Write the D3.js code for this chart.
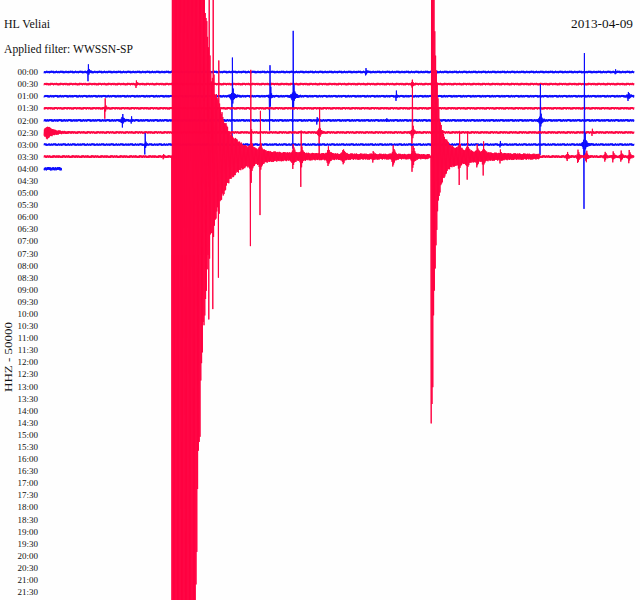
<!DOCTYPE html>
<html><head><meta charset="utf-8">
<script src="https://cdn.jsdelivr.net/npm/d3@7"></script>
<style>body{margin:0;background:#fff} svg{display:block}</style>
</head><body><svg id="c" width="640" height="600"></svg>
<script>
// ---------- data ----------
const stationName = "HL Veliai";
const filterText = "Applied filter: WWSSN-SP";
const dateText = "2013-04-09";
const channelText = "HHZ - 50000";
const rowLabels = ["00:00","00:30","01:00","01:30","02:00","02:30","03:00","03:30","04:00","04:30",
  "05:00","05:30","06:00","06:30","07:00","07:30","08:00","08:30","09:00","09:30","10:00","10:30",
  "11:00","11:30","12:00","12:30","13:00","13:30","14:00","14:30","15:00","15:30","16:00","16:30",
  "17:00","17:30","18:00","18:30","19:00","19:30","20:00","20:30","21:00","21:30"];
// recorded traces (rows 0..8); minutes recorded in each row, background noise in counts
const traceEndMin = [30, 30, 30, 30, 30, 30, 30, 30, 0.9];
const traceNoise = [5200, 5200, 5200, 5200, 5200, 5200, 4800, 5600, 7000];
const traceColor = ["blue","red","blue","red","blue","red","blue","red","blue"];
// events: [row, onset minute, upward peak (counts), downward peak (counts), decay (minutes)]
const events = [
  [0, 2.24, 24000, 24000, 0.02], [0, 2.24, 9000, 9000, 0.05], [0, 16.37, 12000, 12000, 0.025], [0, 29.03, 12000, 12000, 0.025],
  [1, 4.68, 12000, 12000, 0.025], [1, 18.71, 14000, 14000, 0.04],
  [2, 9.56, 140000, 195000, 0.015], [2, 9.56, 26000, 26000, 0.09],
  [2, 11.49, 128000, 128000, 0.015], [2, 11.49, 12000, 12000, 0.06],
  [2, 12.66, 244000, 203000, 0.015], [2, 12.66, 30000, 30000, 0.09],
  [2, 17.90, 18000, 18000, 0.025], [2, 29.7, 15000, 15000, 0.06],
  [3, 3.10, 33000, 33000, 0.015], [3, 3.10, 9000, 9000, 0.04],
  [4, 3.97, 41000, 41000, 0.015], [4, 3.97, 16000, 16000, 0.07], [4, 4.42, 20000, 20000, 0.025],
  [4, 13.88, 12000, 12000, 0.025], [4, 17.39, 10000, 10000, 0.025],
  [4, 25.22, 128000, 132000, 0.015], [4, 25.22, 26000, 26000, 0.07],
  [5, 0.15, 24000, 24000, 0.3], [5, 13.98, 186000, 199000, 0.015], [5, 13.98, 22000, 22000, 0.07],
  [5, 18.71, 248000, 157000, 0.015], [5, 18.71, 20000, 20000, 0.07], [5, 27.86, 12000, 12000, 0.025],
  [6, 5.14, 33000, 33000, 0.015], [6, 5.14, 9000, 9000, 0.04], [6, 23.19, 10000, 10000, 0.025],
  [6, 27.46, 372000, 227000, 0.015], [6, 27.46, 34000, 34000, 0.09],
  [7, 6.05, 12000, 12000, 0.025], [7, 8.39, 414000, 300000, 0.015], [7, 8.59, 700000, 400000, 0.015],
  [7, 8.85, 700000, 1010000, 0.015],
  [7, 10.51, 277000, 300000, 0.015], [7, 10.51, 45000, 45000, 0.09],
  [7, 10.98, 153000, 227000, 0.015], [7, 10.98, 38000, 38000, 0.09],
  [7, 12.66, 34000, 34000, 0.07], [7, 13.07, 79000, 83000, 0.015], [7, 13.07, 26000, 26000, 0.07],
  [7, 14.44, 32000, 32000, 0.07], [7, 15.20, 26000, 26000, 0.07], [7, 16.73, 12000, 12000, 0.04],
  [7, 17.75, 36000, 36000, 0.07], [7, 18.76, 40000, 40000, 0.07],
  [7, 21.10, 100000, 112000, 0.015], [7, 21.10, 40000, 40000, 0.07],
  [7, 21.51, 80000, 95000, 0.015], [7, 21.51, 32000, 32000, 0.07],
  [7, 22.02, 30000, 30000, 0.05], [7, 22.32, 70000, 83000, 0.015], [7, 22.32, 26000, 26000, 0.07],
  [7, 23.19, 14000, 14000, 0.04], [7, 26.59, 18000, 18000, 0.05], [7, 27.15, 26000, 26000, 0.05],
  [7, 27.56, 28000, 28000, 0.05], [7, 28.52, 18000, 18000, 0.05], [7, 28.93, 18000, 18000, 0.05],
  [7, 29.34, 20000, 20000, 0.05], [7, 29.75, 22000, 22000, 0.05]
];
// main earthquake envelope on row 7 (minute, counts)
const quakeMin = [6.50, 7.42, 7.63, 7.73, 7.83, 7.93, 8.03, 8.14, 8.24, 8.34, 8.44, 8.69, 8.95, 9.20, 9.46, 9.97, 10.47, 10.98, 12.0, 13.02, 15.05, 18.1, 19.6];
const quakeAmp = [3300000, 3300000, 2900000, 1820000, 1410000, 1160000, 870000, 700000, 580000, 450000, 360000, 270000, 200000, 140000, 95000, 55000, 32000, 22000, 14000, 11000, 8000, 6000, 5000];
// second earthquake envelope on row 7
const quake2Min = [19.68, 19.78, 19.83, 19.93, 20.03, 20.14, 20.39, 20.64, 21.15, 22.17, 23.19, 25.22];
const quake2Amp = [1250000, 950000, 620000, 380000, 220000, 140000, 75000, 45000, 26000, 15000, 10000, 6000];

// ---------- rendering ----------
const colors = {blue: "#0a0aff", red: "#ff0342"};
const texture = [1.0, 0.62, 0.9, 0.48, 0.95, 0.7, 0.55, 1.0, 0.8, 0.5, 0.92, 0.66, 0.58, 0.85, 1.0, 0.45, 0.75, 0.9, 0.6, 0.98, 0.52, 0.82, 0.7, 0.95];

const svg = d3.select("#c");
svg.append("rect").attr("width", 640).attr("height", 600).attr("fill", "#fefefe");

const x = d3.scaleLinear().domain([0, 30]).range([44, 634]);
const row = d3.scaleLinear().domain([0, rowLabels.length - 1]).range([72, 592]);
const spacing = row(1) - row(0);
const amp = d3.scaleLinear().domain([0, 50000]).range([0, spacing]);

function envTable(mins, amps) {
  const s = d3.scaleLinear().domain(mins).range(amps.map(Math.log));
  return t => (t < mins[0] || t > mins[mins.length - 1]) ? 0 : Math.exp(s(t));
}
const tables = [[7, envTable(quakeMin, quakeAmp)], [7, envTable(quake2Min, quake2Amp)]];

const stepPx = 0.4;
const dt = stepPx * 30 / (x.range()[1] - x.range()[0]);

const line = d3.line();
const g = svg.append("g");
traceEndMin.forEach((end, k) => {
  const evs = events.filter(e => e[0] === k);
  const tabs = tables.filter(t => t[0] === k).map(t => t[1]);
  const pts = [];
  const n = Math.floor(end / dt);
  for (let i = 0; i <= n; i++) {
    const t = i * dt;
    const tp = Math.floor(i / 2) * 2 * dt;   // both sides of a swing share one envelope value
    const up = i % 2 === 1;
    let e = 0;
    for (const ev of evs) {
      const a = up ? ev[2] : ev[3];
      const d = tp - ev[1];
      if (d >= -dt) e += a * Math.exp(-Math.max(0, d) / ev[4]);
      else if (ev[4] >= 0.04) e += a * Math.exp(d / (ev[4] * 0.6));
    }
    for (const f of tabs) e += f(tp);
    const p = texture[(i + k * 7) % texture.length];
    const v = (up ? 1 : -1) * (traceNoise[k] * p + e * (0.8 + 0.2 * p));
    pts.push([x(t), row(k) - amp(v)]);
  }
  g.append("path").attr("d", line(pts)).attr("fill", "none")
    .attr("stroke", colors[traceColor[k]]).attr("stroke-width", 1);
});

// row labels
const serif = "Liberation Serif, Times New Roman, serif";
svg.append("g").selectAll("text").data(rowLabels).join("text")
  .attr("x", 38).attr("y", (d, i) => row(i)).attr("dy", "0.35em")
  .attr("text-anchor", "end")
  .attr("font-family", serif).attr("font-size", 9)
  .attr("fill", "#111").text(d => d);

svg.append("text").attr("x", 4).attr("y", 28).attr("font-family", serif).attr("font-size", 13)
  .attr("textLength", 46).attr("lengthAdjust", "spacingAndGlyphs").attr("fill", "#111").text(stationName);
svg.append("text").attr("x", 4).attr("y", 53).attr("font-family", serif).attr("font-size", 13)
  .attr("textLength", 129).attr("lengthAdjust", "spacingAndGlyphs").attr("fill", "#111").text(filterText);
svg.append("text").attr("x", 633).attr("y", 28).attr("text-anchor", "end").attr("font-family", serif).attr("font-size", 13)
  .attr("textLength", 62).attr("lengthAdjust", "spacingAndGlyphs").attr("fill", "#111").text(dateText);
svg.append("text").attr("transform", "translate(8,357) rotate(-90)").attr("text-anchor", "middle")
  .attr("dy", "0.35em").attr("font-family", serif).attr("font-size", 10)
  .attr("textLength", 70).attr("lengthAdjust", "spacingAndGlyphs").attr("fill", "#111").text(channelText);
</script></body></html>
